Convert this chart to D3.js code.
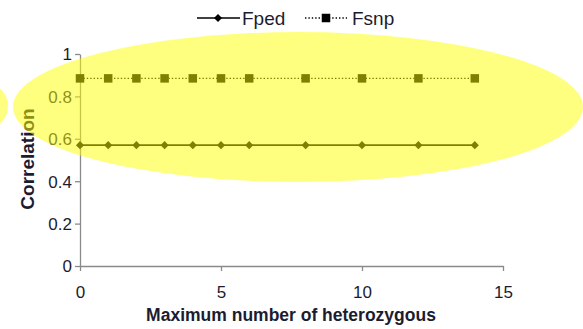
<!DOCTYPE html>
<html><head><meta charset="utf-8">
<script src="https://cdn.jsdelivr.net/npm/d3@7"></script>
<style>body{margin:0;background:#fff;}svg{display:block;font-family:"Liberation Sans",Arial,sans-serif;}</style>
</head><body>
<svg id="c" width="583" height="329"></svg>
<script>
const xValues = [0, 1, 2, 3, 4, 5, 6, 8, 10, 12, 14];
const fped = [0.57, 0.57, 0.57, 0.57, 0.57, 0.57, 0.57, 0.57, 0.57, 0.57, 0.57];
const fsnp = [0.885, 0.885, 0.885, 0.885, 0.885, 0.885, 0.885, 0.885, 0.885, 0.885, 0.885];
const xTicks = [0, 5, 10, 15];
const yTicks = [0, 0.2, 0.4, 0.6, 0.8, 1];

const svg = d3.select("#c");
const x = d3.scaleLinear().domain([0, 15]).range([80, 503]);
const y = d3.scaleLinear().domain([0, 1]).range([266, 54]);
const txt = "#1c1c30";

const xAxis = svg.append("g").attr("transform", "translate(0,266)")
  .call(d3.axisBottom(x).tickValues(xTicks).tickSize(5).tickSizeOuter(0).tickFormat(d3.format("d")));
const yAxis = svg.append("g").attr("transform", "translate(80,0)")
  .call(d3.axisLeft(y).tickValues(yTicks).tickSize(5).tickSizeOuter(0).tickFormat(d => d === 0 || d === 1 ? d : d3.format(".1f")(d)));
[xAxis, yAxis].forEach(a => {
  a.select(".domain").attr("stroke", "#8a8a8a").attr("stroke-width", 1.3);
  a.selectAll(".tick line").attr("stroke", "#8a8a8a").attr("stroke-width", 1.3);
  a.selectAll("text").attr("fill", txt).attr("font-size", 17).attr("font-family", "Liberation Sans, Arial, sans-serif");
});
xAxis.selectAll("text").attr("y", 0).attr("dy", 0).attr("transform", "translate(0,32)");
yAxis.selectAll("text").attr("x", -8).attr("dy", "0.35em");

const line = d3.line().x(d => x(d[0])).y(d => y(d[1]));
const dPed = xValues.map((v, i) => [v, fped[i]]);
const dSnp = xValues.map((v, i) => [v, fsnp[i]]);

svg.append("path").datum(dPed).attr("d", line).attr("fill", "none").attr("stroke", "#000").attr("stroke-width", 1.7);
svg.append("path").datum(dSnp).attr("d", line).attr("fill", "none").attr("stroke", "#000").attr("stroke-width", 1.4).attr("stroke-dasharray", "1.4,2");

const diamond = d3.symbol().type(d3.symbolDiamond2).size(42);
svg.append("g").selectAll("path").data(dPed).join("path")
  .attr("transform", d => `translate(${x(d[0])},${y(d[1])})`).attr("d", diamond).attr("fill", "#000");
svg.append("g").selectAll("rect").data(dSnp).join("rect")
  .attr("x", d => x(d[0]) - 4.25).attr("y", d => y(d[1]) - 4.25).attr("width", 8.5).attr("height", 8.5).attr("fill", "#000");

// axis titles
svg.append("text").attr("x", 291).attr("y", 321).attr("text-anchor", "middle")
  .attr("font-size", 17.5).attr("font-weight", "bold").attr("fill", txt).text("Maximum number of heterozygous");
svg.append("text").attr("transform", "translate(34,159) rotate(-90)").attr("text-anchor", "middle")
  .attr("font-size", 19).attr("font-weight", "bold").attr("fill", txt).text("Correlation");

// legend
const lg = svg.append("g");
lg.append("line").attr("x1", 197).attr("x2", 240).attr("y1", 18).attr("y2", 18).attr("stroke", "#000").attr("stroke-width", 1.7);
lg.append("path").attr("transform", "translate(218,18)").attr("d", diamond).attr("fill", "#000");
lg.append("text").attr("x", 242).attr("y", 24.5).attr("font-size", 19).attr("fill", txt).text("Fped");
lg.append("line").attr("x1", 305).attr("x2", 347).attr("y1", 18).attr("y2", 18).attr("stroke", "#000").attr("stroke-width", 1.4).attr("stroke-dasharray", "1.4,2");
lg.append("rect").attr("x", 321.75).attr("y", 13.75).attr("width", 8.5).attr("height", 8.5).attr("fill", "#000");
lg.append("text").attr("x", 352).attr("y", 24.5).attr("font-size", 19).attr("fill", txt).text("Fsnp");

// highlighter overlay
svg.append("ellipse").attr("cx", 298).attr("cy", 107).attr("rx", 285).attr("ry", 75)
  .attr("fill", "#ffff00").attr("opacity", 0.5);
svg.append("ellipse").attr("cx", -12).attr("cy", 106).attr("rx", 20).attr("ry", 22)
  .attr("fill", "#ffff00").attr("opacity", 0.5);
</script>
</body></html>
